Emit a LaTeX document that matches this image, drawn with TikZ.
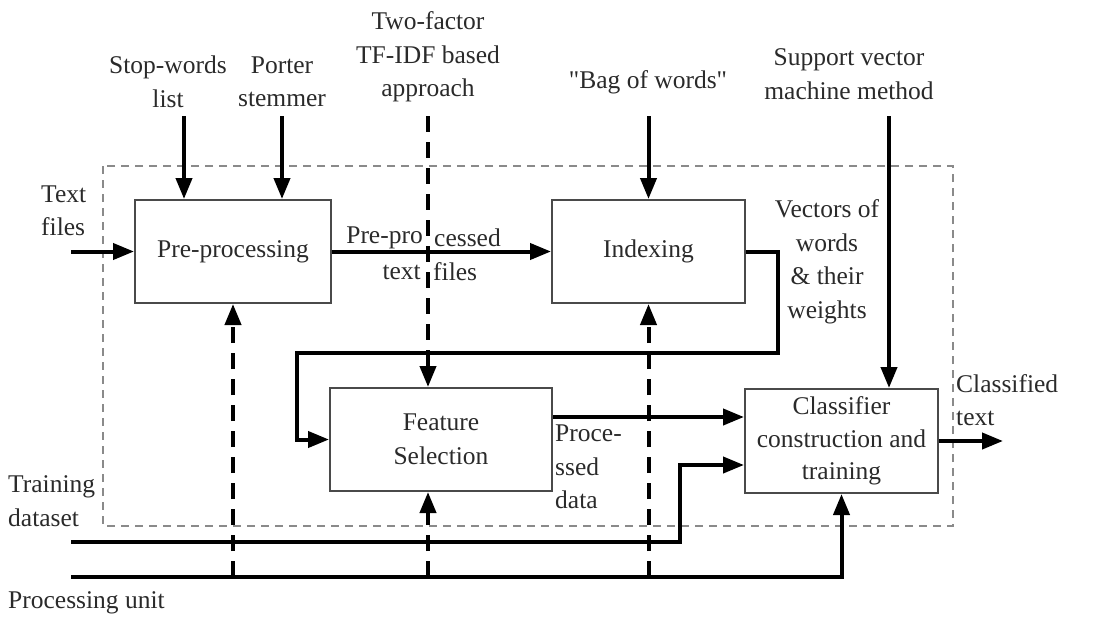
\documentclass[tikz,border=0pt]{standalone}
\usepackage{fontspec}
\setmainfont{Liberation Serif}
\newfontfamily\plainquote{Liberation Serif}
\usetikzlibrary{arrows.meta}
\definecolor{txt}{HTML}{2A2A2A}
\definecolor{boxline}{HTML}{4A4A4A}
\definecolor{frame}{HTML}{8A8A8A}
\begin{document}
\begin{tikzpicture}[x=1pt,y=-1pt,
  font=\fontsize{25.5}{33.5}\selectfont,
  every node/.style={text=txt},
  lbl/.style={inner sep=0pt, align=center},
  lbll/.style={inner sep=0pt, align=left},
  blk/.style={draw=boxline, line width=2pt, rectangle, align=center, inner sep=0pt},
  arr/.style={line width=4pt, -{Triangle[length=21pt,width=16pt]}},
  darr/.style={line width=4pt, dash pattern=on 16pt off 10pt, -{Triangle[length=21pt,width=16pt]}},
  thk/.style={line width=4pt}
]
\useasboundingbox (0,0) rectangle (1097,619);

% outer dashed frame
\draw[frame, line width=2pt, dash pattern=on 8pt off 6pt] (103,166) rectangle (953,526);

% blocks
\node[blk, minimum width=196pt, minimum height=103pt] (pre) at (233,251.5) {Pre-processing};
\node[blk, minimum width=193pt, minimum height=103pt] (idx) at (648.5,251.5) {Indexing};
\node[blk, minimum width=222pt, minimum height=103pt] (fs) at (441,439.5) {Feature\\Selection};
\node[blk, minimum width=193pt, minimum height=104pt] (cls) at (841.5,441) {Classifier\\[-1pt]construction and\\[-1pt]training};

% labels
\node[lbll, anchor=west] (ltf) at (41,211) {Text\\files};
\node[lbl] (lsw) at (168,82) {Stop-words\\list};
\node[lbl] (lps) at (282,82) {Porter\\stemmer};
\node[lbl] (ltwo) at (428,57) {Two-factor\\TF-IDF based\\approach};
\node[lbl] (lbag) at (648,82) {{\plainquote"}Bag of words{\plainquote"}};
\node[lbl] (lsvm) at (849,74) {Support vector\\machine method};
\node[lbl] (lvec) at (827,262) {Vectors of\\words\\\& their\\weights};
\node[lbl, anchor=east] (lpp1) at (423,238) {Pre-pro};
\node[lbl, anchor=west] (lpp2) at (434,238) {cessed};
\node[lbl, anchor=east] (ltx1) at (421,272) {text};
\node[lbl, anchor=west] (ltx2) at (433,272) {files};
\node[lbll, anchor=west] (lpd) at (555,467) {Proce-\\ssed\\data};
\node[lbll, anchor=west] (lct) at (956,400) {Classified\\text};
\node[lbll, anchor=west] (ltd) at (8,501) {Training\\dataset};
\node[lbll, anchor=west] (lpu) at (8,603) {Processing unit};

% free ends
\coordinate (tfin) at (71,251.5);
\coordinate (swt) at (184,116);
\coordinate (pst) at (282,116);
\coordinate (twt) at (428,116);
\coordinate (bgt) at (648.5,116);
\coordinate (svt) at (889,116);
\coordinate (tdin) at (71,542);
\coordinate (puin) at (71,577);
\coordinate (cout) at (1003,441);

% solid connectors
\draw[arr] (tfin) -- (pre.west);
\draw[arr] (swt) -- (swt |- pre.north);
\draw[arr] (pst) -- (pst |- pre.north);
\draw[arr] (pre.east) -- (idx.west);
\draw[arr] (bgt) -- (idx.north);
\draw[arr] (svt) -- (svt |- cls.north);
\draw[arr] (idx.east) -- (778,251.5) -- (778,353) -- (297,353) -- (297,439.5) -- (fs.west);
\draw[arr] (fs.east |- 0,417) -- (cls.west |- 0,417);
\draw[arr] (tdin) -- (680,542) -- (680,465) -- (cls.west |- 0,465);
\draw[arr] (puin) -- (cls.south |- puin) -- (cls.south);
\draw[arr] (cls.east) -- (cout);

% dashed connectors
\draw[darr] (twt) -- (twt |- fs.north);
\draw[darr] (233,577) -- (pre.south);
\draw[darr] (428,577) -- (428,0 |- fs.south);
\draw[darr] (648.5,577) -- (idx.south);
\end{tikzpicture}
\end{document}
